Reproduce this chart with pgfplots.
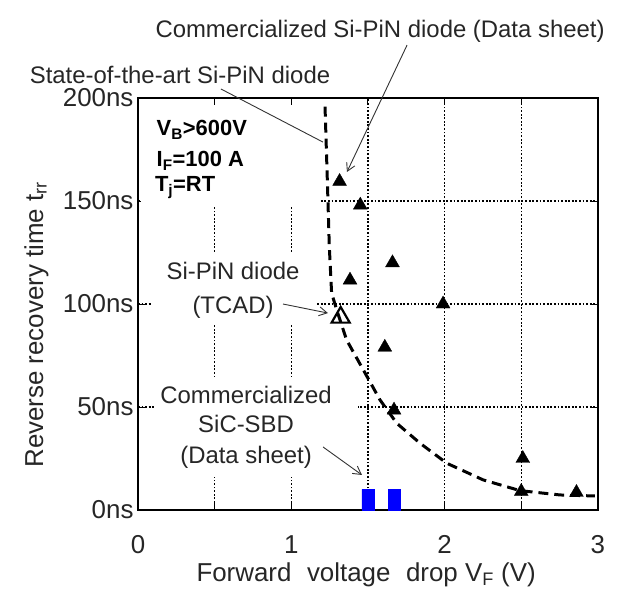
\documentclass[border=0pt]{standalone}
\usepackage{fontspec}
\setmainfont{Liberation Sans}
\usepackage{pgfplots}
\pgfplotsset{compat=1.18}
\usetikzlibrary{arrows.meta}

\pgfplotstableread{
x y
1.315 159.5
1.450 148
1.66 120
1.383 111.6
1.99 100
1.61 79
1.67 48.5
2.51 25
2.50 9
2.86 8.5
}\commercial

\pgfplotstableread{
x y
1.220 195.8
1.235 160.2
1.248 127.8
1.263 105.2
1.307 94.7
1.361 82.5
1.470 68.0
1.579 53.4
1.688 42.1
1.840 32.4
2.014 22.7
2.252 14.6
2.492 9.4
2.753 7.3
2.980 6.8
}\trend

\begin{document}
\begin{tikzpicture}
\begin{axis}[
  scale only axis, width=460bp, height=412bp,
  xmin=0, xmax=3, ymin=0, ymax=200,
  xtick={0,1,2,3}, xticklabels={0,1,2,3},
  minor xtick={0.5,1.5,2.5},
  ytick={0,50,100,150,200}, yticklabels={0ns,50ns,100ns,150ns,200ns},
  xmajorgrids=true, xminorgrids=true, ymajorgrids=true,
  major grid style={black, line width=1.2pt, dash pattern=on 1.8pt off 1.8pt},
  minor grid style={black, line width=1.2pt, dash pattern=on 1.8pt off 1.8pt},
  axis line style={line width=2.6pt},
  major tick style={black, line width=1pt},
  minor tick style={black, line width=1pt},
  major tick length=7pt, minor tick length=7pt,
  tick align=inside,
  ticklabel style={font=\fontsize{26}{30}\selectfont, text=black!85},
  xticklabel style={yshift=-22pt},
  yticklabel style={xshift=-1pt},
  label style={font=\fontsize{26}{30}\selectfont, text=black!85},
  xlabel={Forward\hspace{0.6em}voltage\hspace{0.6em}drop V\textsubscript{F} (V)},
  xlabel style={at={(axis description cs:0.496,-0.174)}, anchor=base},
  ylabel={Reverse recovery time t\textsubscript{rr}},
  ylabel style={at={(axis description cs:-0.2065,0.45)}, anchor=base},
  clip=false,
]
% white boxes behind texts (cover grid)
\fill[white] (axis cs:0.02,147) rectangle (axis cs:1.19,196);
\fill[white] (axis cs:0.09,89.8) rectangle (axis cs:1.155,124.8);
\fill[white] (axis cs:0.11,16) rectangle (axis cs:1.435,64.6);

% trend line
\addplot[black, line width=3pt, dash pattern=on 10pt off 6pt] table[x=x,y=y] {\trend};

% SiC SBD bars
\addplot[ybar, bar width=0.078, fill=blue, draw=blue] coordinates {(1.5,10) (1.673,10)};

% commercial Si-PiN
\addplot[only marks, mark=triangle*, mark size=8pt, black] table[x=x,y=y] {\commercial};

% TCAD
\addplot[only marks, mark=triangle, mark size=10.5pt, black, line width=2.2pt, mark options={fill=white, line width=2.2pt}] coordinates {(1.322,93.5)};

% texts
\node[anchor=base west, font=\fontsize{22}{26}\selectfont\bfseries, inner sep=0pt] at (axis cs:0.121,181.7) {V\textsubscript{B}>600V};
\node[anchor=base west, font=\fontsize{22}{26}\selectfont\bfseries, inner sep=0pt] at (axis cs:0.121,166.7) {I\textsubscript{F}=100 A};
\node[anchor=base west, font=\fontsize{22}{26}\selectfont\bfseries, inner sep=0pt] at (axis cs:0.110,154.5) {T\textsubscript{j}=RT};

\node[anchor=base, font=\fontsize{24}{28}\selectfont, text=black!85, inner sep=0pt] at (axis cs:0.62,111.7) {Si-PiN diode};
\node[anchor=base, font=\fontsize{24}{28}\selectfont, text=black!85, inner sep=0pt] at (axis cs:0.62,95.6) {(TCAD)};

\node[anchor=base, font=\fontsize{24}{28}\selectfont, text=black!85, inner sep=0pt] at (axis cs:0.705,51.9) {Commercialized};
\node[anchor=base, font=\fontsize{24}{28}\selectfont, text=black!85, inner sep=0pt] at (axis cs:0.705,37.4) {SiC-SBD};
\node[anchor=base, font=\fontsize{24}{28}\selectfont, text=black!85, inner sep=0pt] at (axis cs:0.705,22.8) {(Data sheet)};

\node[anchor=base, font=\fontsize{24}{28}\selectfont, text=black!85, inner sep=0pt] at (axis cs:1.579,229.4) {Commercialized Si-PiN diode (Data sheet)};
\node[anchor=base, font=\fontsize{24}{28}\selectfont, text=black!85, inner sep=0pt] at (axis cs:0.274,207.3) {State-of-the-art Si-PiN diode};

% arrows
\draw[black!80, line width=0.9pt, -{Straight Barb[length=8pt,width=9pt]}] (axis cs:1.755,225.7) -- (axis cs:1.363,164.1);
\draw[black!80, line width=0.9pt] (axis cs:0.541,204.4) -- (axis cs:1.207,178.6);
\draw[black!80, line width=0.9pt, -{Straight Barb[length=8pt,width=9pt]}] (axis cs:0.946,100) -- (axis cs:1.239,95.6);
\draw[black!80, line width=0.9pt, -{Straight Barb[length=8pt,width=9pt]}] (axis cs:1.207,30.6) -- (axis cs:1.461,17.0);

% bounding box
\path (rel axis cs:-0.3,-0.187) rectangle (rel axis cs:1.048,1.238);
\end{axis}
\end{tikzpicture}
\end{document}
